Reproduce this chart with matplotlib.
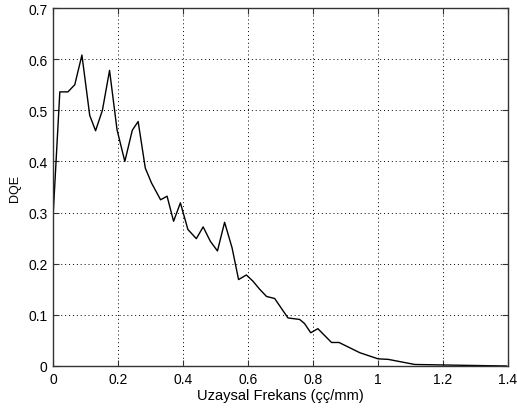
import matplotlib.pyplot as plt

# Spatial frequency (cycles/mm) and DQE values
freq = [0.0, 0.021, 0.046, 0.067, 0.089, 0.113, 0.131, 0.152, 0.174, 0.197,
        0.221, 0.244, 0.262, 0.284, 0.303, 0.331, 0.351, 0.371, 0.392, 0.415,
        0.441, 0.462, 0.484, 0.506, 0.528, 0.551, 0.571, 0.595, 0.615, 0.636,
        0.657, 0.682, 0.723, 0.759, 0.774, 0.793, 0.815, 0.857, 0.88, 0.944,
        1.0, 1.031, 1.072, 1.113, 1.2, 1.395]
dqe = [0.29, 0.536, 0.536, 0.550, 0.608, 0.49, 0.46, 0.50, 0.578, 0.462,
       0.40, 0.461, 0.478, 0.387, 0.358, 0.325, 0.332, 0.283, 0.319, 0.267,
       0.249, 0.272, 0.244, 0.225, 0.281, 0.231, 0.169, 0.178, 0.166, 0.15,
       0.136, 0.132, 0.094, 0.091, 0.083, 0.065, 0.073, 0.046, 0.046, 0.026,
       0.014, 0.013, 0.008, 0.003, 0.002, 0.0]

xticks = [0, 0.2, 0.4, 0.6, 0.8, 1, 1.2, 1.4]
xtick_labels = ["0", "0.2", "0.4", "0.6", "0.8", "1", "1.2", "1.4"]
yticks = [0, 0.1, 0.2, 0.3, 0.4, 0.5, 0.6, 0.7]
ytick_labels = ["0", "0.1", "0.2", "0.3", "0.4", "0.5", "0.6", "0.7"]

plt.rcParams['font.family'] = ['Liberation Sans', 'DejaVu Sans']

fig = plt.figure(figsize=(5.17, 4.10), dpi=100)
ax = fig.add_axes([53 / 517, 1 - 367 / 410, 455 / 517, 358 / 410])

ax.plot(freq, dqe, color='black', linewidth=1.0)

ax.set_xlim(0, 1.4)
ax.set_ylim(0, 0.7)
ax.set_xticks(xticks)
ax.set_xticklabels(xtick_labels)
ax.set_yticks(yticks)
ax.set_yticklabels(ytick_labels)
ax.tick_params(direction='in', top=True, right=True, length=4,
               labelsize=10, pad=4, color='#333333')
ax.grid(True, linestyle=(0, (1, 3)), color='black', linewidth=0.7)

for s in ax.spines.values():
    s.set_color('#333333')
    s.set_linewidth(1.0)

ax.set_xlabel("Uzaysal Frekans (çç/mm)", fontsize=10.5, labelpad=2)
ax.set_ylabel("DQE", fontsize=9, labelpad=5)

fig.savefig("out.png", dpi=100, facecolor='white')
